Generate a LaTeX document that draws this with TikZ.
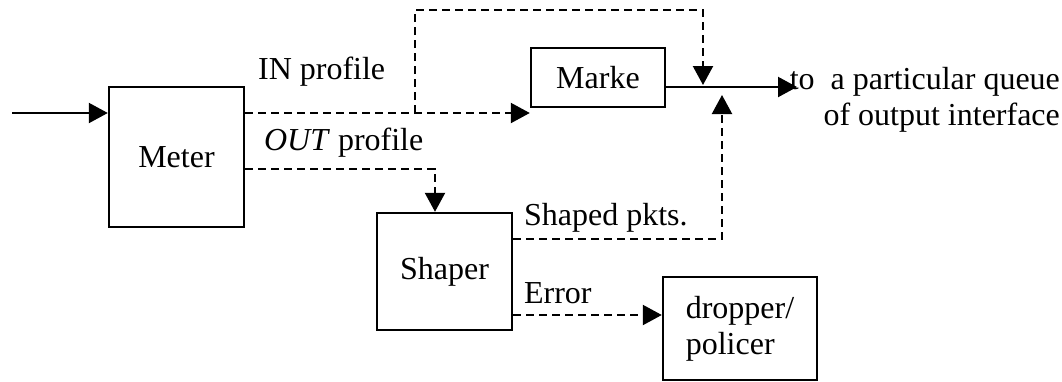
\documentclass[tikz,border=0pt]{standalone}
\usepackage{fontspec}
\setmainfont{Liberation Serif}
\usetikzlibrary{arrows.meta,positioning,calc}

\begin{document}
\begin{tikzpicture}[x=0.5pt,y=-0.5pt,>={Triangle[length=9.5pt,width=10pt]},
  line width=1.1pt, font=\fontsize{16}{18}\selectfont,
  block/.style={draw, line width=1.2pt, inner sep=0pt, align=center},
  lbl/.style={inner sep=0pt, anchor=west},
  dsh/.style={dashed, dash pattern=on 4pt off 2.5pt}]
  \useasboundingbox (0,0) rectangle (1062,381);
  % boxes
  \node[block, minimum width=67.5pt, minimum height=70pt] (mt) at (176.5,157) {Meter};
  \node[block, minimum width=67pt, minimum height=29.5pt] (mk) at (598,77.5) {Marke};
  \node[block, minimum width=67.5pt, minimum height=58.5pt] (sh) at (444.5,271.5) {Shaper};
  \node[block, minimum width=77pt, minimum height=51.5pt, align=left] (dp) at (740,328.5) {dropper/\\policer};
  % labels
  \node[lbl] (lin) at (257,72) {IN profile};
  \node[lbl] (lout) at (263,143) {\textit{OUT} profile};
  \node[lbl] (lsp) at (523,218) {Shaped pkts.};
  \node[lbl] (ler) at (523,293) {Error};
  \node[inner sep=0pt, anchor=east, align=right] (lq) at (1061,100) {to\ \ a particular queue\\of output interface};
  % points
  \coordinate (in) at (12,113);
  \coordinate (br) at (415,113);
  \coordinate (jn) at (703,87);
  \coordinate (ju) at (722,87);
  \coordinate (out) at (797,87);
  % connectors
  \draw[->] (in) -- (in -| mt.west);
  \draw[->, dsh] (mt.east |- in) -- (mk.west |- in);
  \draw[->, dsh] (br) -- ++(0,-103) -| ($(jn)+(0,-2)$);
  \draw[->] (mk.east |- jn) -- (out);
  \draw[->, dsh] (sh.east |- 0,239) -| ($(ju)+(0,8)$);
  \draw[->, dsh] (mt.east |- 0,169) -| (sh.north -| 435,0);
  \draw[->, dsh] (sh.east |- 0,315) -- (dp.west |- 0,315);
\end{tikzpicture}
\end{document}
